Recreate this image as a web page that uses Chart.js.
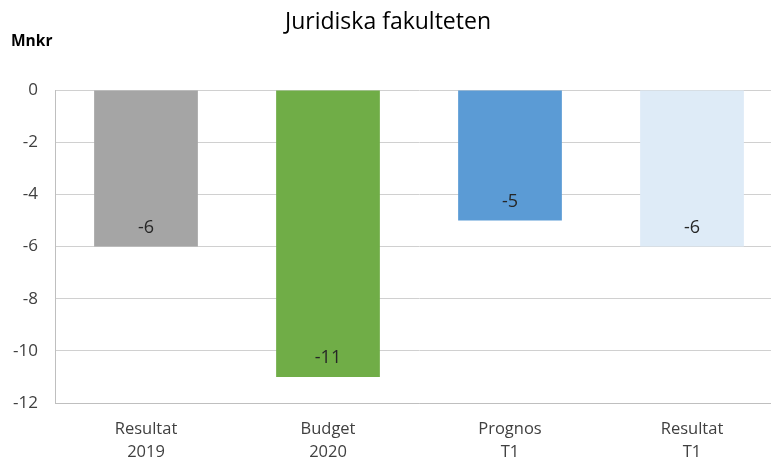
<!DOCTYPE html>
<html>
<head>
<meta charset="utf-8">
<script src="https://cdn.jsdelivr.net/npm/chart.js@4/dist/chart.umd.min.js"></script>
<style>
  html, body { margin: 0; padding: 0; width: 771px; height: 461px; overflow: hidden; background: #fff; }
  #wrap { position: relative; width: 771px; height: 461px; overflow: hidden; }
  #cv { position: absolute; left: 0; top: 0; }
  #title { position: absolute; top: 4px; left: 388px; transform: translateX(-50%); white-space: nowrap;
           font-family: "Open Sans", sans-serif; font-size: 23px; line-height: 32px; color: #000; }
  #unit { position: absolute; top: 29px; left: 11px; font-family: "Open Sans", sans-serif;
          font-size: 15.5px; font-weight: bold; color: #000; }
</style>
</head>
<body>
<div id="wrap">
  <canvas id="cv" width="786" height="461" style="width:786px;height:461px"></canvas>
  <div id="title">Juridiska fakulteten</div>
  <div id="unit">Mnkr</div>
</div>
<script>
const categories = [["Resultat", "2019"], ["Budget", "2020"], ["Prognos", "T1"], ["Resultat", "T1"]];
const values = [-6, -11, -5, -6];
const valueLabels = ["-6", "-11", "-5", "-6"];
const barColors = ["#A5A5A5", "#70AD47", "#5B9BD5", "#DEEBF7"];
const yTicks = [0, -2, -4, -6, -8, -10, -12];

const labelPlugin = {
  id: "valueLabels",
  afterDatasetsDraw(chart) {
    const ctx = chart.ctx;
    const meta = chart.getDatasetMeta(0);
    const y = chart.scales.y;
    ctx.save();
    ctx.font = "18px 'Open Sans', sans-serif";
    ctx.fillStyle = "#262626";
    ctx.textAlign = "center";
    ctx.textBaseline = "middle";
    meta.data.forEach((bar, i) => {
      const py = y.getPixelForValue(values[i]) - 19;
      ctx.fillText(valueLabels[i], bar.x, py);
    });
    ctx.restore();
  }
};

new Chart(document.getElementById("cv"), {
  type: "bar",
  data: {
    labels: categories,
    datasets: [{
      data: values,
      backgroundColor: barColors,
      borderWidth: 0,
      barPercentage: 0.57,
      categoryPercentage: 1.0
    }]
  },
  options: {
    responsive: false,
    animation: false,
    devicePixelRatio: 1,
    layout: { padding: { top: 90, right: 3, bottom: 0, left: 0 } },
    plugins: { legend: { display: false }, title: { display: false }, tooltip: { enabled: false } },
    scales: {
      x: {
        grid: { display: false, drawTicks: false },
        border: { display: true, color: "#BFBFBF", width: 1 },
        ticks: { color: "#404040", font: { family: "'Open Sans', sans-serif", size: 16.5, lineHeight: 1.4 }, padding: 15, maxRotation: 0 },
        afterFit(scale) { scale.height = 58; }
      },
      y: {
        min: -12,
        max: 0,
        afterBuildTicks(scale) { scale.ticks = yTicks.map(v => ({ value: v })); },
        grid: { color: "#D0D0D0", lineWidth: 1, drawTicks: false },
        border: { display: true, color: "#BFBFBF", width: 1 },
        ticks: { color: "#404040", font: { family: "'Open Sans', sans-serif", size: 17 }, padding: 17 },
        afterFit(scale) { scale.width = 55; }
      }
    }
  },
  plugins: [labelPlugin]
});
</script>
</body>
</html>
